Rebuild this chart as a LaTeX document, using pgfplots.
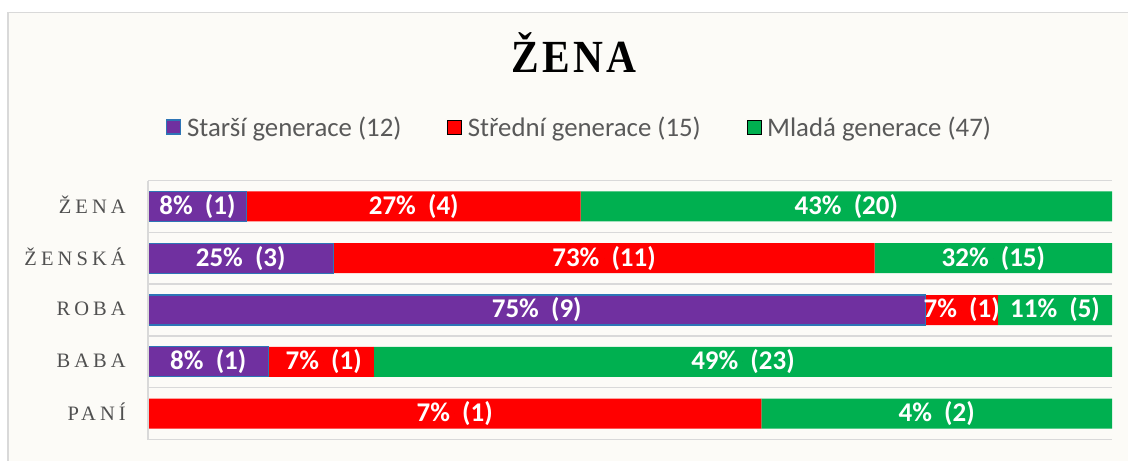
\documentclass[border=0pt]{standalone}
\usepackage{fontspec}
\usepackage{pgfplots}
\pgfplotsset{compat=1.18}
\setmainfont{Liberation Serif}
\newfontfamily\carlito{Carlito}
\newfontfamily\ylabfont[LetterSpace=20]{Liberation Serif}
\newfontfamily\titlefont[LetterSpace=8]{Liberation Serif}
\definecolor{purp}{HTML}{7030A0}
\definecolor{redc}{HTML}{FF0000}
\definecolor{greenc}{HTML}{00B050}
\definecolor{edgeblue}{HTML}{2E75B6}
\definecolor{bgc}{HTML}{FCFBF7}
\definecolor{framec}{HTML}{D9D9D9}
\definecolor{txtgray}{HTML}{595959}

\begin{document}
\begin{tikzpicture}
\useasboundingbox (0,0) rectangle (1128bp,461bp);
\clip (0,0) rectangle (1128bp,461bp);
\filldraw[fill=bgc, draw=framec, line width=1.5bp] (8bp,-20bp) rectangle (1160bp,448.5bp);
\node[anchor=base, inner sep=0pt] at (574bp,388bp) {\scalebox{0.9}[1]{\titlefont\bfseries\fontsize{46bp}{50bp}\selectfont ŽENA}};

\begin{axis}[
  at={(148bp,21.5bp)}, anchor=south west,
  scale only axis, width=964bp, height=259bp,
  xbar stacked, bar width=30bp,
  xmin=0, xmax=100, ymin=-0.5, ymax=4.5, y dir=reverse,
  xtick=\empty,
  ytick={0,1,2,3,4},
  yticklabels={ŽENA,ŽENSKÁ,ROBA,BABA,PANÍ},
  y tick label style={font=\ylabfont\fontsize{20.5bp}{24bp}\selectfont, text=txtgray!90!black, inner sep=0pt, xshift=-22bp, yshift=1.5bp},
  major tick length=0pt, minor tick length=0pt,
  minor ytick={-0.5,0.5,1.5,2.5,3.5,4.5},
  yminorgrids, minor grid style={draw=framec, line width=1.5bp},
  axis x line=none,
  axis y line*=left,
  y axis line style={draw=framec, line width=1.5bp, -},
  axis on top,
  legend style={at={(0.4476,1.2066)}, anchor=center, draw=none, fill=none,
    legend columns=3, font=\carlito\fontsize{26.8bp}{30bp}\selectfont, text=txtgray,
    /tikz/every odd column/.append style={column sep=4bp},
    /tikz/every even column/.append style={column sep=44bp},
    nodes={inner sep=2bp}},
  legend image code/.code={\filldraw[#1] (0bp,-7bp) rectangle (14bp,7bp);},
]
\addplot[fill=purp, draw=edgeblue, line width=1.2bp] coordinates {(10.256,0) (19.231,1) (80.645,2) (12.5,3) (0,4)};
\addplot[fill=redc, draw=none] coordinates {(34.615,0) (56.154,1) (7.527,2) (10.9375,3) (63.636,4)};
\addplot[fill=greenc, draw=none] coordinates {(55.128,0) (24.615,1) (11.828,2) (76.5625,3) (36.364,4)};
\legend{Starší generace (12),Střední generace (15),Mladá generace (47)}
\end{axis}

\begin{axis}[
  at={(148bp,21.5bp)}, anchor=south west,
  scale only axis, width=964bp, height=259bp,
  xmin=0, xmax=100, ymin=-0.5, ymax=4.5, y dir=reverse,
  hide axis,
  nodes near coords, point meta=explicit symbolic,
  every node near coord/.append style={anchor=center, text=white, inner sep=0pt,
    font=\carlito\bfseries\fontsize{27bp}{30bp}\selectfont},
]
\addplot[only marks, mark=*, mark size=0pt, mark options={draw=none, fill=none}] coordinates {
 (5.128,0) [8\%\hspace{0.45em}(1)]
 (27.564,0) [27\%\hspace{0.45em}(4)]
 (72.436,0) [43\%\hspace{0.45em}(20)]
 (9.615,1) [25\%\hspace{0.45em}(3)]
 (47.308,1) [73\%\hspace{0.45em}(11)]
 (87.692,1) [32\%\hspace{0.45em}(15)]
 (40.323,2) [75\%\hspace{0.45em}(9)]
 (84.409,2) [7\%\hspace{0.45em}(1)]
 (94.086,2) [11\%\hspace{0.45em}(5)]
 (6.25,3) [8\%\hspace{0.45em}(1)]
 (18.219,3) [7\%\hspace{0.45em}(1)]
 (61.719,3) [49\%\hspace{0.45em}(23)]
 (31.818,4) [7\%\hspace{0.45em}(1)]
 (81.818,4) [4\%\hspace{0.45em}(2)]
};
\end{axis}
\end{tikzpicture}
\end{document}
